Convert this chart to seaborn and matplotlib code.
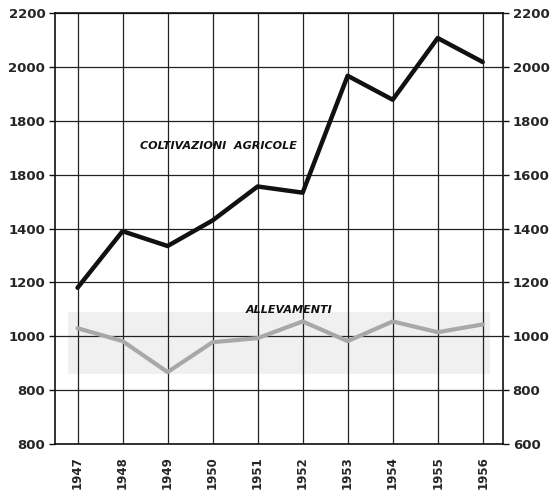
import matplotlib
matplotlib.use("Agg")
import matplotlib.pyplot as plt
import seaborn as sns
import pandas as pd

years = [1947, 1948, 1949, 1950, 1951, 1952, 1953, 1954, 1955, 1956]
coltivazioni = [1180, 1390, 1335, 1430, 1556, 1533, 1967, 1878, 2107, 2018]
allevamenti = [1030, 982, 867, 978, 993, 1055, 982, 1055, 1015, 1044]

yticks = [600, 800, 1000, 1200, 1400, 1600, 1800, 2000, 2200]
# left labels as printed on the original (with its misprints)
left_labels = ["800", "800", "1000", "1200", "1400", "1800", "1800", "2000", "2200"]
right_labels = ["600", "800", "1000", "1200", "1400", "1600", "1800", "2000", "2200"]

df = pd.DataFrame({"anno": years, "coltivazioni": coltivazioni, "allevamenti": allevamenti})

sns.set_style("white")
plt.rcParams["font.family"] = ["DejaVu Sans"]

fig = plt.figure(figsize=(5.58, 4.98), dpi=100)
ax = fig.add_axes([0.0986, 0.1084, 0.8028, 0.8655])

# faint grey band behind the livestock line
ax.axhspan(860, 1090, xmin=0.03, xmax=0.97, color="#f0f0f0", zorder=0, lw=0)

sns.lineplot(data=df, x="anno", y="coltivazioni", ax=ax, color="#111111", lw=3.2, zorder=3)
sns.lineplot(data=df, x="anno", y="allevamenti", ax=ax, color="#a8a8a8", lw=3.0, zorder=3)

ax.set_xlim(1946.5, 1956.45)
ax.set_ylim(600, 2200)
ax.set_xticks(years)
ax.set_xticklabels([str(y) for y in years], rotation=90, fontsize=8.5, fontweight="bold")
ax.set_yticks(yticks)
ax.set_yticklabels(left_labels, fontsize=9.5, fontweight="bold")
ax.set_xlabel("")
ax.set_ylabel("")
ax.grid(True, color="#222222", lw=0.9)
ax.set_axisbelow(True)
for s in ax.spines.values():
    s.set_color("#111111")
    s.set_linewidth(1.2)
ax.tick_params(axis="both", direction="out", length=4, width=1, color="#111111", pad=3)
ax.tick_params(axis="x", pad=5)

ax2 = ax.twinx()
ax2.set_ylim(600, 2200)
ax2.set_yticks(yticks)
ax2.set_yticklabels(right_labels, fontsize=9.5, fontweight="bold")
ax2.tick_params(axis="y", direction="out", length=4, width=1, color="#111111", pad=3)
for s in ax2.spines.values():
    s.set_visible(False)

ax.text(1950.13, 1706, "COLTIVAZIONI  AGRICOLE", style="italic", fontsize=8,
        fontweight="bold", ha="center", va="center", color="#111111")
ax.text(1951.7, 1097, "ALLEVAMENTI", style="italic", fontsize=8,
        fontweight="bold", ha="center", va="center", color="#111111")

fig.savefig("out.png", dpi=100)
